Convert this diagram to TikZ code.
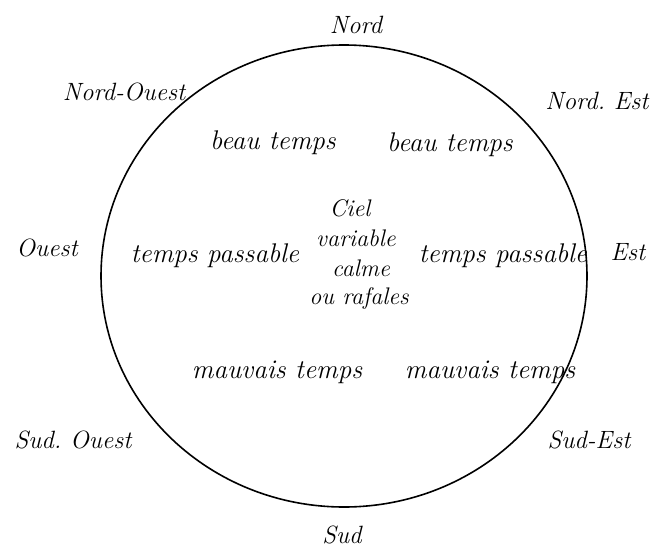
\documentclass[tikz,border=0pt]{standalone}
\begin{document}
\begin{tikzpicture}[x=1pt,y=-1pt,
  lbl/.style={inner sep=0pt,font=\fontsize{25}{28}\selectfont\itshape\frenchspacing},
  wx/.style={inner sep=0pt,font=\fontsize{27}{30}\selectfont\itshape},
  mid/.style={inner sep=0pt,font=\fontsize{24}{26}\selectfont\itshape},
  ring/.style={line width=1.6pt}]
\useasboundingbox[fill=white] (0,0) rectangle (653,554);
\draw[ring] (344,276) ellipse [x radius=243pt, y radius=231pt];
% compass points
\node[lbl] (n)  at (356,25)  {Nord};
\node[lbl] (nw) at (124,92)  {Nord-Ouest};
\node[lbl] (ne) at (597,101) {Nord. Est};
\node[lbl] (w)  at (47,248)  {Ouest};
\node[lbl] (e)  at (628,252) {Est};
\node[lbl] (sw) at (73,440)  {Sud. Ouest};
\node[lbl] (se) at (589,440) {Sud-Est};
\node[lbl] (s)  at (342,535) {Sud};
% weather
\node[wx] (b1) at (273,143) {beau temps};
\node[wx] (b2) at (450,145) {beau temps};
\node[wx] (p1) at (215,256) {temps passable};
\node[wx] (p2) at (503,256) {temps passable};
\node[wx] (m1) at (277,372) {mauvais temps};
\node[wx] (m2) at (490,372) {mauvais temps};
\node[mid] (c1) at (350,208) {Ciel};
\node[mid] (c2) at (356,238) {variable};
\node[mid] (c3) at (361,268) {calme};
\node[mid] (c4) at (359,298) {ou rafales};
\end{tikzpicture}
\end{document}
